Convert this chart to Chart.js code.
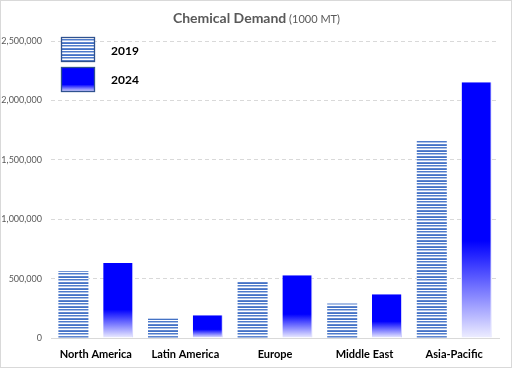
<!DOCTYPE html>
<html>
<head>
<meta charset="utf-8">
<script src="https://cdn.jsdelivr.net/npm/chart.js@4/dist/chart.umd.min.js"></script>
<style>
  html, body { margin: 0; padding: 0; background: #fff; }
  #wrap { position: absolute; left: 0; top: 0; width: 510px; height: 366px; border: 1px solid #d9d9d9; background: #fff; }
  canvas { display: block; }
</style>
</head>
<body>
<div id="wrap"><canvas id="c" width="510" height="366"></canvas></div>
<script>
const categories = ['North America', 'Latin America', 'Europe', 'Middle East', 'Asia-Pacific'];
const series2019 = [561000, 163000, 471000, 290000, 1664000];
const series2024 = [631000, 191000, 528000, 368000, 2152000];
const seriesNames = ['2019', '2024'];
const yTicks = [0, 500000, 1000000, 1500000, 2000000, 2500000];

const FONT = 'Lato, "Liberation Sans", sans-serif';

function makeStripePattern(ctx) {
  const pc = document.createElement('canvas');
  pc.width = 4; pc.height = 6;
  const p = pc.getContext('2d');
  const rows = ['#4472C4', '#ffffff', '#4F7BCB', '#A9BFE6', '#ffffff', '#5F86D0'];
  rows.forEach((c, i) => { p.fillStyle = c; p.fillRect(0, i, 4, 1); });
  return ctx.createPattern(pc, 'repeat');
}

function blueGradient(ctx, top, bottom) {
  const g = ctx.createLinearGradient(0, top, 0, bottom);
  g.addColorStop(0, '#0000ff');
  g.addColorStop(0.62, '#0000ff');
  g.addColorStop(1, '#eeeeff');
  return g;
}

const canvas = document.getElementById('c');
const ctx0 = canvas.getContext('2d');
const stripe = makeStripePattern(ctx0);

const titlePlugin = {
  id: 'customTitle',
  afterDraw(chart) {
    const ctx = chart.ctx;
    ctx.save();
    const main = 'Chemical Demand';
    const sub = ' (1000 MT)';
    ctx.font = 'bold 14px ' + FONT;
    const w1 = ctx.measureText(main).width;
    ctx.font = '11px ' + FONT;
    const w2 = ctx.measureText(sub).width;
    const x0 = 255.5 - (w1 + w2) / 2;
    const y = 17;
    ctx.fillStyle = '#595959';
    ctx.textBaseline = 'middle';
    ctx.textAlign = 'left';
    ctx.font = 'bold 14px ' + FONT;
    ctx.fillText(main, x0, y);
    ctx.font = '11px ' + FONT;
    ctx.fillText(sub, x0 + w1, y + 1);
    ctx.restore();
  }
};

const legendPlugin = {
  id: 'customLegend',
  afterDraw(chart) {
    const ctx = chart.ctx;
    ctx.save();
    const bx = 60, bw = 34, bh = 25;
    const ys = [36, 66];
    ctx.fillStyle = '#ffffff';
    ctx.fillRect(bx, ys[0], bw, bh);
    ctx.fillStyle = stripe;
    ctx.fillRect(bx, ys[0], bw, bh);
    const g = ctx.createLinearGradient(0, ys[1], 0, ys[1] + bh);
    g.addColorStop(0, '#0000ff');
    g.addColorStop(0.7, '#0000ff');
    g.addColorStop(1, '#e8e8ff');
    ctx.fillStyle = g;
    ctx.fillRect(bx, ys[1], bw, bh);
    ctx.strokeStyle = '#2F528F';
    ctx.lineWidth = 1.3;
    ys.forEach(y => ctx.strokeRect(bx + 0.5, y + 0.5, bw - 1, bh - 1));
    ctx.fillStyle = '#000000';
    ctx.font = 'bold 12px ' + FONT;
    ctx.textBaseline = 'middle';
    ctx.textAlign = 'left';
    ctx.fillText(seriesNames[0], 110, ys[0] + 14);
    ctx.fillText(seriesNames[1], 110, ys[1] + 13);
    ctx.restore();
  }
};

new Chart(canvas, {
  type: 'bar',
  data: {
    labels: categories,
    datasets: [
      {
        label: seriesNames[0],
        data: series2019,
        backgroundColor: stripe,
        borderWidth: 0
      },
      {
        label: seriesNames[1],
        data: series2024,
        backgroundColor: (c) => {
          const chart = c.chart;
          const ys = chart.scales && chart.scales.y;
          if (!ys || c.raw === undefined) return '#0000ff';
          const top = ys.getPixelForValue(c.raw);
          const bottom = ys.getPixelForValue(0);
          if (!isFinite(top) || !isFinite(bottom) || bottom - top < 1) return '#0000ff';
          return blueGradient(chart.ctx, top, bottom);
        },
        borderColor: '#d0d0ff',
        borderWidth: { top: 0, right: 1, bottom: 0, left: 0 },
        borderSkipped: false
      }
    ]
  },
  options: {
    responsive: false,
    animation: false,
    devicePixelRatio: 1,
    layout: { padding: { top: 40, right: 12, bottom: 0, left: 0 } },
    categoryPercentage: 1.0,
    barPercentage: 0.67,
    plugins: {
      legend: { display: false },
      title: { display: false },
      tooltip: { enabled: false }
    },
    scales: {
      x: {
        grid: { display: false, drawTicks: false },
        border: { display: true, color: '#d9d9d9', width: 1 },
        ticks: {
          padding: 10,
          color: '#000000',
          font: { family: FONT, size: 11, weight: 'bold' }
        },
        afterFit: (s) => { s.height = 29; }
      },
      y: {
        min: 0,
        max: 2500000,
        afterBuildTicks: (s) => { s.ticks = yTicks.map(v => ({ value: v })); },
        grid: { color: '#d9d9d9', drawTicks: false, lineWidth: 1 },
        border: { display: false, dash: [4, 3] },
        ticks: {
          padding: 9,
          color: '#595959',
          font: { family: FONT, size: 9 },
          callback: (v) => Number(v).toLocaleString('en-US')
        },
        afterFit: (s) => { s.width = 50; }
      }
    }
  },
  plugins: [titlePlugin, legendPlugin]
});
</script>
</body>
</html>
